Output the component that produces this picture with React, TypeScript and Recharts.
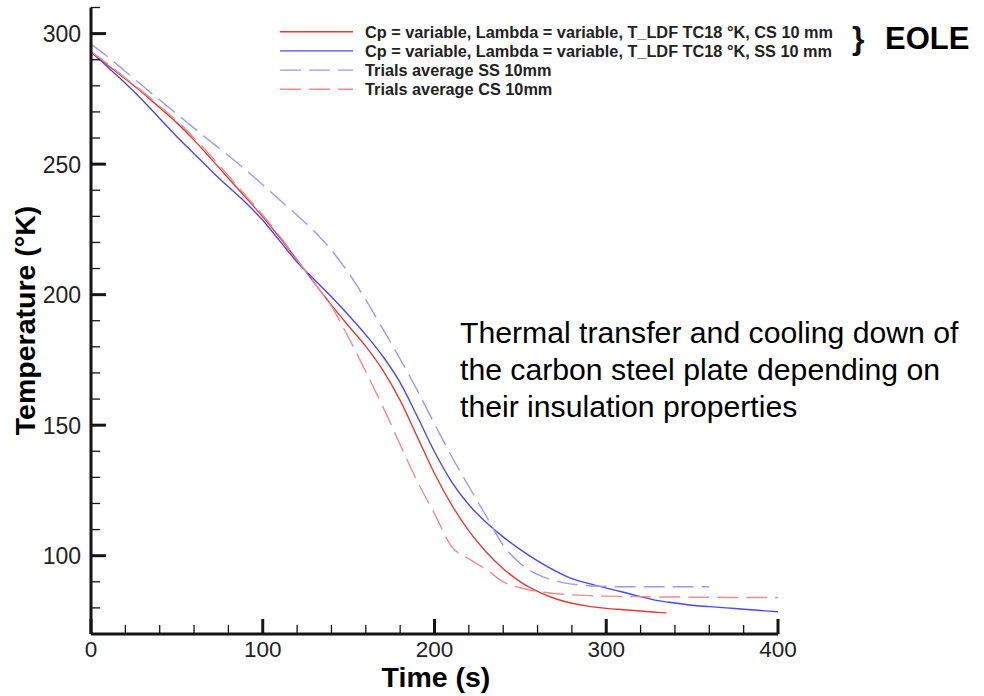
import React from 'react';
import { LineChart, Line, XAxis, YAxis } from 'recharts';

// time (s)
const TIME = [
  0, 10, 20, 30, 40, 50, 60, 70, 80, 90, 100, 110, 120, 130, 140, 150, 160, 170, 180, 190,
  200, 210, 220, 230, 240, 250, 260, 270, 280, 290, 300, 310, 320, 330, 335, 340, 350, 360,
  370, 380, 390, 400,
];

// temperature (°K)
const CS_SIM = [
  293, 287.8, 282.6, 277.4, 271.6, 265.8, 259.2, 252, 244.6, 237.3, 229.8, 221.8, 213.3, 204.5,
  196, 188, 180.2, 171, 159.5, 145.5, 131.5, 119.5, 109.5, 101.5, 95, 90, 86.3, 83.6, 81.8, 80.6,
  79.8, 79.3, 78.8, 78.3, 78.1, null, null, null, null, null, null, null,
];
const SS_SIM = [
  293, 287, 281, 274.5, 267.5, 260.5, 254, 247.5, 241.3, 235.3, 228.5, 220.5, 212.5, 205.8,
  199.2, 192.1, 184.6, 176.3, 166.3, 153.3, 139.8, 128.3, 119.5, 112.8, 107.2, 102.3, 98, 94.3,
  91.2, 89.3, 87.6, 86, 84.3, 82.8, null, 81.9, 81, 80.5, 80, 79.5, 79, 78.5,
];
const SS_TRIALS = [
  296, 291, 285.5, 280, 274.6, 269.2, 263.8, 258.5, 253.3, 247.8, 242.1, 236.2, 230.4, 224.3,
  217, 208.3, 198, 186.8, 175.3, 163.3, 150.5, 138, 126.5, 115.3, 104, 97, 92.8, 90.4, 89.1,
  88.5, 88.2, 88.1, 88.1, 88.1, null, 88.1, 88.1, 88.1, null, null, null, null,
];
const CS_TRIALS = [
  293, 288.3, 283, 277.8, 272.2, 266.5, 260, 253, 245.5, 238, 230.5, 222.3, 213.4, 204.5, 195.5,
  183.5, 170.5, 157, 142.5, 128.5, 116, 103.5, 98.8, 94.8, 90, 87.7, 86.3, 85.5, 85, 84.7, 84.5,
  84.4, 84.3, 84.2, null, 84.2, 84.1, 84.1, 84, 84, 84, 84,
];

const X_TICKS = [0, 20, 40, 60, 80, 100, 120, 140, 160, 180, 200, 220, 240, 260, 280, 300, 320, 340, 360, 380, 400];
const Y_TICKS = [70, 80, 90, 100, 110, 120, 130, 140, 150, 160, 170, 180, 190, 200, 210, 220, 230, 240, 250, 260, 270, 280, 290, 300, 310];

const SERIES = [
  { key: 'csSim', values: CS_SIM, color: '#E23A3A', dash: undefined, name: 'Cp = variable, Lambda = variable, T_LDF TC18 °K, CS 10 mm' },
  { key: 'ssSim', values: SS_SIM, color: '#4848F2', dash: undefined, name: 'Cp = variable, Lambda = variable, T_LDF TC18 °K, SS 10 mm' },
  { key: 'ssTrials', values: SS_TRIALS, color: '#9A9AF6', dash: '21 8', name: 'Trials average SS 10mm' },
  { key: 'csTrials', values: CS_TRIALS, color: '#EE8C8C', dash: '21 8', name: 'Trials average CS 10mm' },
];

const rows = TIME.map((t, i) => {
  const row: any = { t };
  SERIES.forEach(s => { row[s.key] = s.values[i]; });
  return row;
});

const FONT = '"Liberation Sans", Arial, Helvetica, sans-serif';
const INK = '#151515';

const YTick = (props: any) => {
  const { x, y, payload } = props;
  const major = payload.value % 50 === 0;
  return (
    <g>
      <line x1={x} x2={x + (major ? 15 : 9)} y1={y} y2={y} stroke={INK} strokeWidth={major ? 3 : 1.3} />
      {major && (
        <text x={x - 10} y={y} dy="0.37em" textAnchor="end" fontSize={23} fontFamily={FONT} fill="#222">
          {payload.value}
        </text>
      )}
    </g>
  );
};

const XTick = (props: any) => {
  const { x, y, payload } = props;
  const major = payload.value % 100 === 0;
  return (
    <g>
      <line x1={x} x2={x} y1={y} y2={y - (major ? 15 : 9)} stroke={INK} strokeWidth={major ? 3 : 1.3} />
      {major && (
        <text x={x} y={y + 23} textAnchor="middle" fontSize={22.5} fontFamily={FONT} fill="#222">
          {payload.value}
        </text>
      )}
    </g>
  );
};

const NOTE = [
  'Thermal transfer and cooling down of',
  'the carbon steel plate depending on',
  'their insulation properties',
];

export default function App() {
  return (
    <div style={{ position: 'absolute', left: 0, top: 0, width: 984, height: 696, background: '#fff', overflow: 'hidden' }}>
      <LineChart width={984} height={696} data={rows} margin={{ top: 7.5, right: 206, bottom: 0, left: 0 }}>
        <XAxis
          type="number"
          dataKey="t"
          domain={[0, 400]}
          ticks={X_TICKS}
          interval={0}
          height={62}
          tickSize={0}
          tickMargin={0}
          tickLine={false}
          tick={XTick}
          axisLine={{ stroke: INK, strokeWidth: 3 }}
          allowDataOverflow
        />
        <YAxis
          type="number"
          domain={[70, 310]}
          ticks={Y_TICKS}
          interval={0}
          width={91}
          tickSize={0}
          tickMargin={0}
          tickLine={false}
          tick={YTick}
          axisLine={{ stroke: INK, strokeWidth: 3 }}
          allowDataOverflow
        />
        {SERIES.map(s => (
          <Line
            key={s.key}
            type="monotone"
            dataKey={s.key}
            stroke={s.color}
            strokeWidth={1.4}
            strokeDasharray={s.dash}
            dot={false}
            activeDot={false}
            connectNulls
            isAnimationActive={false}
          />
        ))}
      </LineChart>

      <svg width={984} height={696} style={{ position: 'absolute', left: 0, top: 0, pointerEvents: 'none' }} fontFamily={FONT}>
        {/* legend */}
        {SERIES.map((s, i) => {
          const cy = 31.7 + i * 19.2;
          return (
            <g key={s.key}>
              <line x1={280} x2={353} y1={cy} y2={cy} stroke={s.color} strokeWidth={1.4} strokeDasharray={s.dash} />
              <text x={365} y={cy} dy="0.36em" fontSize={16.3} fontWeight="bold" fill="#222">{s.name}</text>
            </g>
          );
        })}
        <text x={852} y={49} fontSize={32} fontWeight="bold" fill="#111">{'}'}</text>
        <text x={885} y={49} fontSize={31} fontWeight="bold" fill="#000">EOLE</text>

        {/* axis titles */}
        <text x={436} y={687} textAnchor="middle" fontSize={28.5} fontWeight="bold" fill="#000">Time (s)</text>
        <text transform="translate(35,320.5) rotate(-90)" textAnchor="middle" fontSize={28.5} fontWeight="bold" fill="#000">
          Temperature (°K)
        </text>

        {/* note */}
        {NOTE.map((line, i) => (
          <text key={i} x={460} y={343 + i * 37} fontSize={30.2} fill="#000">{line}</text>
        ))}
      </svg>
    </div>
  );
}
